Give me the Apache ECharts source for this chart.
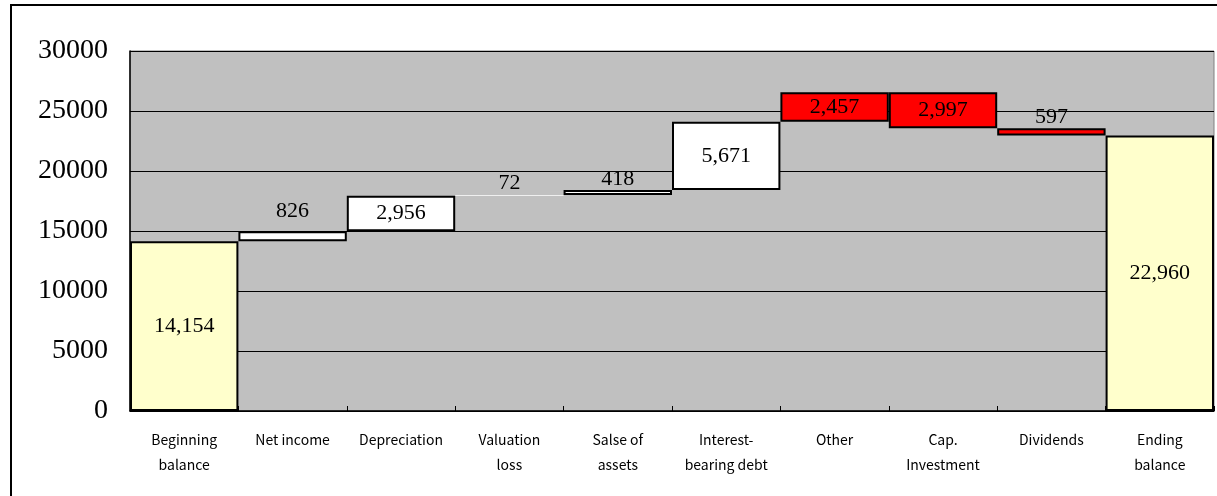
<!DOCTYPE html>
<html lang="en">
  <head>
    <meta charset="UTF-8" />
    <title>Cash flow waterfall</title>
    <style>
      body { margin: 0; background: #fff; }
      #main { width: 1217px; height: 496px; }
    </style>
  </head>
  <body>
    <div id="main"></div>
    <script src="https://cdn.jsdelivr.net/npm/echarts@6/dist/echarts.min.js"></script>
    <script>
      // categories and values
      const categories = ['Beginning\nbalance', 'Net income', 'Depreciation', 'Valuation\nloss', 'Salse of\nassets',
        'Interest-\nbearing debt', 'Other', 'Cap.\nInvestment', 'Dividends', 'Ending\nbalance']
      const beginning = 14154
      // changes between the two balances (Other is drawn upward in the original)
      const changes = [826, 2956, 72, 418, 5671, 2457, -2997, -597]
      const ending = 22960
      const yTicks = [0, 5000, 10000, 15000, 20000, 25000, 30000]

      // build the waterfall: invisible base + visible step
      const base = [0]
      const step = [beginning]
      let running = beginning
      changes.forEach(c => {
        const next = running + c
        base.push(Math.min(running, next))
        step.push(Math.abs(c))
        running = next
      })
      base.push(0)
      step.push(ending)

      const redItems = ['Other', 'Cap.\nInvestment', 'Dividends']
      // labels that sit above their (thin) bars, with the gap in px
      const topLabels = { 'Net income': 9, 'Valuation\nloss': 1, 'Salse of\nassets': 0, 'Dividends': 0 }

      const fmt = v => v.toLocaleString('en-US')

      const stepData = step.map((v, i) => {
        const name = categories[i]
        let color = '#ffffff'
        if (i === 0 || i === categories.length - 1) color = '#ffffcc'
        else if (redItems.includes(name)) color = '#ff0000'
        const item = { value: v, itemStyle: { color: color } }
        // the 72 step is under a pixel tall and shows no outline in the original
        if (name === 'Valuation\nloss') item.itemStyle.borderWidth = 0
        if (name in topLabels) {
          item.label = { position: 'top', distance: topLabels[name] }
        }
        return item
      })

      const myChart = echarts.init(document.getElementById('main'))
      const option = {
        backgroundColor: '#ffffff',
        animation: false,
        graphic: [
          {
            type: 'polyline',
            shape: { points: [[11, 496], [11, 5], [1217, 5]] },
            style: { stroke: '#000', lineWidth: 2, fill: null }
          }
        ],
        grid: {
          left: 130,
          right: 3,
          top: 51,
          bottom: 85,
          show: true,
          backgroundColor: '#c0c0c0',
          borderColor: '#808080',
          borderWidth: 1
        },
        xAxis: {
          type: 'category',
          data: categories,
          axisLine: { lineStyle: { color: '#000', width: 1.5 } },
          axisTick: { show: true, inside: true, length: 5, lineStyle: { color: '#000' } },
          axisLabel: {
            color: '#000',
            fontFamily: 'Noto Sans CJK JP',
            fontSize: 14,
            lineHeight: 25,
            margin: 16,
            interval: 0
          }
        },
        yAxis: {
          type: 'value',
          min: yTicks[0],
          max: yTicks[yTicks.length - 1],
          interval: yTicks[1] - yTicks[0],
          axisLine: { show: true, lineStyle: { color: '#000', width: 1.5 } },
          axisTick: { show: true, inside: true, length: 5, lineStyle: { color: '#000' } },
          axisLabel: {
            color: '#000',
            fontFamily: 'Liberation Serif',
            fontSize: 28,
            margin: 22,
            formatter: v => String(v)
          },
          splitLine: { lineStyle: { color: '#000', width: 1 } }
        },
        series: [
          {
            type: 'bar',
            stack: 'flow',
            data: base,
            itemStyle: { color: 'transparent' },
            barCategoryGap: 0,
            silent: true
          },
          {
            type: 'bar',
            stack: 'flow',
            data: stepData,
            barCategoryGap: 0,
            itemStyle: { borderColor: '#000', borderWidth: 2 },
            label: {
              show: true,
              position: 'inside',
              color: '#000',
              fontFamily: 'Liberation Serif',
              fontSize: 22,
              formatter: p => fmt(p.value)
            }
          }
        ]
      }
      myChart.setOption(option)
    </script>
  </body>
</html>
